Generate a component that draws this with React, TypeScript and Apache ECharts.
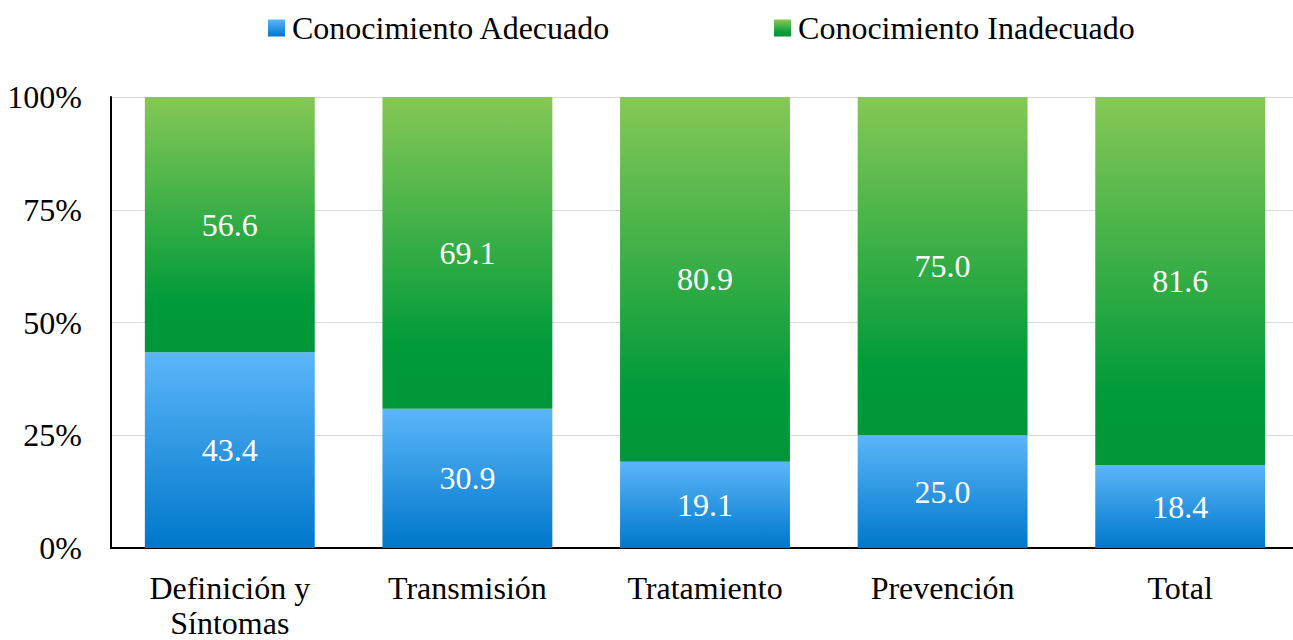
import React, { useEffect, useRef } from "react";
import * as echarts from "echarts";

const categories = ["Definición y\nSíntomas", "Transmisión", "Tratamiento", "Prevención", "Total"];
const adecuado = [43.4, 30.9, 19.1, 25.0, 18.4];
const inadecuado = [56.6, 69.1, 80.9, 75.0, 81.6];
const seriesNames = ["Conocimiento Adecuado", "Conocimiento Inadecuado"];

const FONT = "Liberation Serif, Times New Roman, serif";
const SIZE = 32;

const blueFill = new echarts.graphic.LinearGradient(0, 0, 0, 1, [
  { offset: 0, color: "#5bb6f9" },
  { offset: 1, color: "#0077cb" },
]);
const greenFill = new echarts.graphic.LinearGradient(0, 0, 0, 1, [
  { offset: 0, color: "#86c856" },
  { offset: 0.8, color: "#009b3a" },
  { offset: 1, color: "#009639" },
]);

export default function App() {
  const ref = useRef<HTMLDivElement>(null);

  useEffect(() => {
    if (!ref.current) return;
    const chart = echarts.init(ref.current, undefined, { renderer: "svg" });
    const label = {
      show: true,
      position: "inside",
      color: "#ffffff",
      fontFamily: FONT,
      fontSize: SIZE,
      formatter: (p: any) => Number(p.value).toFixed(1),
    };
    chart.setOption({
      animation: false,
      textStyle: { fontFamily: FONT },
      legend: {
        top: 7,
        left: 263,
        itemWidth: 17,
        itemHeight: 17,
        itemGap: 163,
        icon: "rect",
        textStyle: { fontFamily: FONT, fontSize: SIZE, color: "#000", padding: [0, 0, 0, 2] },
        data: seriesNames,
      },
      grid: {
        left: 111,
        top: 97,
        width: 1188,
        height: 451,
        containLabel: false,
        outerBoundsMode: "none",
      },
      xAxis: {
        type: "category",
        data: categories,
        axisLine: { lineStyle: { color: "#000", width: 2 } },
        axisTick: { show: false },
        axisLabel: {
          fontFamily: FONT,
          fontSize: SIZE,
          color: "#000",
          margin: 22,
          lineHeight: 35,
          interval: 0,
        },
      },
      yAxis: {
        type: "value",
        min: 0,
        max: 100,
        interval: 25,
        axisLine: { show: true, lineStyle: { color: "#000", width: 2 } },
        axisTick: { show: false },
        splitLine: { lineStyle: { color: "#d9d9d9", width: 1 } },
        axisLabel: {
          fontFamily: FONT,
          fontSize: SIZE,
          color: "#000",
          margin: 29,
          formatter: "{value}%",
        },
      },
      series: [
        {
          name: seriesNames[0],
          type: "bar",
          stack: "total",
          barWidth: "71.5%",
          data: adecuado,
          itemStyle: { color: blueFill },
          label,
        },
        {
          name: seriesNames[1],
          type: "bar",
          stack: "total",
          barWidth: "71.5%",
          data: inadecuado,
          itemStyle: { color: greenFill },
          label,
        },
      ],
    });
    return () => chart.dispose();
  }, []);

  return (
    <div
      ref={ref}
      style={{ position: "absolute", left: 0, top: 0, width: 1293, height: 640, overflow: "hidden" }}
    />
  );
}
